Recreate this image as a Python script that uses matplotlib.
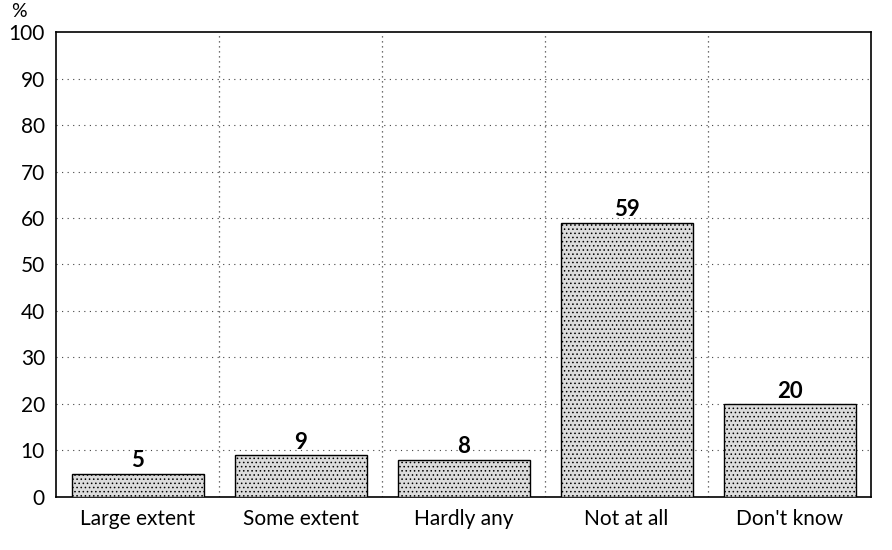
import numpy as np
import matplotlib
matplotlib.use("Agg")
import matplotlib.pyplot as plt

categories = ["Large extent", "Some extent", "Hardly any", "Not at all", "Don't know"]
values = [5, 9, 8, 59, 20]
y_ticks = [0, 10, 20, 30, 40, 50, 60, 70, 80, 90, 100]

plt.rcParams["font.family"] = ["Lato", "DejaVu Sans"]
plt.rcParams["hatch.color"] = "#555555"
plt.rcParams["hatch.linewidth"] = 0.6

fig = plt.figure(figsize=(8.92, 5.5), dpi=100)
ax = fig.add_axes([0.0628, 0.0964, 0.9137, 0.8454])

x = np.arange(len(categories))
bars = ax.bar(x, values, width=0.81, facecolor="#dcdcdc", edgecolor="black",
              linewidth=1.0, hatch="....", zorder=3)

for xi, v in zip(x, values):
    ax.text(xi, v + 0.5, str(v), ha="center", va="bottom",
            fontsize=16, fontweight="bold", zorder=4)

ax.set_xlim(-0.5, len(categories) - 0.5)
ax.set_ylim(0, 100)
ax.set_yticks(y_ticks)
ax.set_xticks(x)
ax.set_xticklabels(categories, fontsize=15)
ax.tick_params(axis="y", labelsize=15, length=0, pad=8)
ax.tick_params(axis="x", length=0, pad=9)

# horizontal grid on the y ticks, vertical lines between categories
for y in y_ticks[1:-1]:
    ax.axhline(y, color="#444444", linestyle=(0, (1, 4)), linewidth=0.8, zorder=1)
for b in x[:-1] + 0.5:
    ax.axvline(b, color="#444444", linestyle=(0, (1, 3)), linewidth=0.9, zorder=1)

for side in ax.spines.values():
    side.set_linewidth(1.2)

fig.text(0.012, 0.995, "%", fontsize=14, va="top", ha="left")

fig.savefig("out.png", dpi=100)
